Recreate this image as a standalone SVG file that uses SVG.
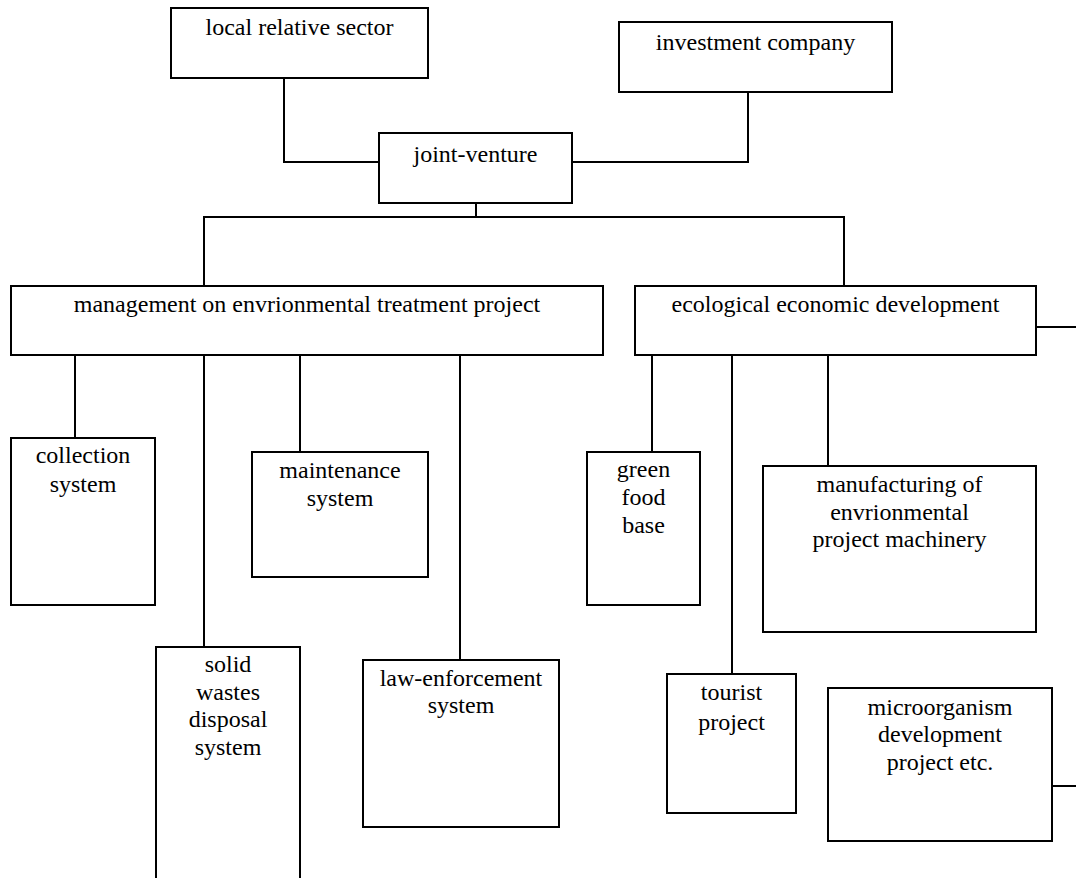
<svg xmlns="http://www.w3.org/2000/svg" width="1076" height="878" viewBox="0 0 1076 878">
<style>
.box{fill:#fff;stroke:#000;stroke-width:2}
.ln{fill:none;stroke:#000;stroke-width:2}
text{font-family:"Liberation Serif","Times New Roman",serif;font-size:24px;fill:#000;text-anchor:middle}
</style>
<rect width="1076" height="878" fill="#fff"/>
<g id="connectors">
<polyline class="ln" points="284,78 284,162 379,162"/>
<polyline class="ln" points="572,162 748,162 748,92"/>
<line class="ln" x1="476" y1="203" x2="476" y2="217"/>
<polyline class="ln" points="204,287 204,217 844,217 844,286"/>
<line class="ln" x1="75" y1="355" x2="75" y2="438"/>
<line class="ln" x1="204" y1="355" x2="204" y2="647"/>
<line class="ln" x1="300" y1="355" x2="300" y2="452"/>
<line class="ln" x1="460" y1="355" x2="460" y2="660"/>
<line class="ln" x1="652" y1="355" x2="652" y2="452"/>
<line class="ln" x1="732" y1="355" x2="732" y2="674"/>
<line class="ln" x1="828" y1="355" x2="828" y2="466"/>
<line class="ln" x1="1036" y1="327" x2="1076" y2="327"/>
<line class="ln" x1="1052" y1="786" x2="1076" y2="786"/>
</g>
<g id="local-relative-sector"><rect class="box" x="171" y="8" width="257" height="70"/><text x="299.5" y="35">local relative sector</text></g>
<g id="investment-company"><rect class="box" x="619" y="22" width="273" height="70"/><text x="755.5" y="50">investment company</text></g>
<g id="joint-venture"><rect class="box" x="379" y="133" width="193" height="70"/><text x="475.5" y="162">joint-venture</text></g>
<g id="management"><rect class="box" x="11" y="286" width="592" height="69"/><text x="307" y="312">management on envrionmental treatment project</text></g>
<g id="ecological"><rect class="box" x="635" y="286" width="401" height="69"/><text x="835.5" y="312">ecological economic development</text></g>
<g id="collection"><rect class="box" x="11" y="438" width="144" height="167"/><text x="83" y="463">collection</text><text x="83" y="492">system</text></g>
<g id="maintenance"><rect class="box" x="252" y="452" width="176" height="125"/><text x="340" y="478">maintenance</text><text x="340" y="506">system</text></g>
<g id="solid-wastes"><rect class="box" x="156" y="647" width="144" height="250"/><text x="228" y="672">solid</text><text x="228" y="700">wastes</text><text x="228" y="727">disposal</text><text x="228" y="755">system</text></g>
<g id="law-enforcement"><rect class="box" x="363" y="660" width="196" height="167"/><text x="461" y="686">law-enforcement</text><text x="461" y="713">system</text></g>
<g id="green-food"><rect class="box" x="587" y="452" width="113" height="153"/><text x="643.5" y="477">green</text><text x="643.5" y="505">food</text><text x="643.5" y="533">base</text></g>
<g id="manufacturing"><rect class="box" x="763" y="466" width="273" height="166"/><text x="899.5" y="492">manufacturing of</text><text x="899.5" y="520">envrionmental</text><text x="899.5" y="547">project machinery</text></g>
<g id="tourist"><rect class="box" x="667" y="674" width="129" height="139"/><text x="731.5" y="700">tourist</text><text x="731.5" y="730">project</text></g>
<g id="microorganism"><rect class="box" x="828" y="688" width="224" height="153"/><text x="940" y="715">microorganism</text><text x="940" y="742">development</text><text x="940" y="770">project etc.</text></g>
</svg>
